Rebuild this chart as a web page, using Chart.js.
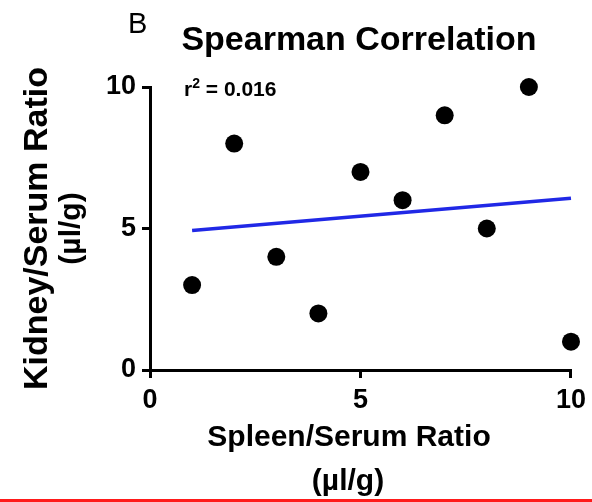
<!DOCTYPE html>
<html>
<head>
<meta charset="utf-8">
<script src="https://cdn.jsdelivr.net/npm/chart.js@4/dist/chart.umd.min.js"></script>
<style>
  html, body { margin: 0; padding: 0; background: #fff; }
  #wrap { position: relative; width: 592px; height: 502px; overflow: hidden; }
  #bar { position: absolute; left: 0; bottom: 0; width: 592px; height: 3px; background: #ff1a1a; }
</style>
</head>
<body>
<div id="wrap">
  <canvas id="c" width="592" height="502"></canvas>
  <div id="bar"></div>
</div>
<script>
// Spleen/serum vs kidney/serum ratios (µl/g)
const spleenRatio = [1, 2, 3, 4, 5, 6, 7, 8, 9, 10];
const kidneyRatio = [3, 8, 4, 2, 7, 6, 9, 5, 10, 1];
// Fitted trend line end points
const fitX = [1, 10];
const fitY = [4.93, 6.07];
// Axis ticks
const xTicks = [0, 5, 10];
const yTicks = [0, 5, 10];

const panelLetter = 'B';
const chartTitle = 'Spearman Correlation';
const xTitle = ['Spleen/Serum Ratio', '(\u00b5l/g)'];
const yTitle = ['Kidney/Serum Ratio', '(\u00b5l/g)'];
const rsqText = ' = 0.016';

const FONT = "'Liberation Sans', Arial, sans-serif";

const points = spleenRatio.map((x, i) => ({ x: x, y: kidneyRatio[i] }));
const fitLine = fitX.map((x, i) => ({ x: x, y: fitY[i] }));

const textPlugin = {
  id: 'panelText',
  afterDraw(chart) {
    const ctx = chart.ctx;
    const area = chart.chartArea;
    ctx.save();
    ctx.fillStyle = '#000';
    ctx.textBaseline = 'alphabetic';

    // panel letter
    ctx.font = '29px ' + FONT;
    ctx.textAlign = 'left';
    ctx.fillText(panelLetter, 128, 33);

    // title
    ctx.font = 'bold 34px ' + FONT;
    ctx.textAlign = 'center';
    ctx.fillText(chartTitle, 359, 50);

    // r squared annotation
    ctx.textAlign = 'left';
    ctx.font = 'bold 21px ' + FONT;
    let x = 184;
    ctx.fillText('r', x, 96);
    x += ctx.measureText('r').width;
    ctx.font = 'bold 14px ' + FONT;
    ctx.fillText('2', x, 88);
    x += ctx.measureText('2').width;
    ctx.font = 'bold 21px ' + FONT;
    ctx.fillText(rsqText, x, 96);

    // x axis title
    ctx.textAlign = 'center';
    ctx.font = 'bold 30px ' + FONT;
    ctx.fillText(xTitle[0], 349, 446);
    ctx.fillText(xTitle[1], 348, 490);

    // y axis title
    const cy = (area.top + area.bottom) / 2;
    ctx.translate(0, cy);
    ctx.rotate(-Math.PI / 2);
    ctx.font = 'bold 34px ' + FONT;
    ctx.fillText(yTitle[0], 0, 47);
    ctx.font = 'bold 30px ' + FONT;
    ctx.fillText(yTitle[1], 0, 80);
    ctx.restore();
  }
};

const axisCommon = {
  type: 'linear',
  min: 0,
  max: 10,
  border: { display: true, color: '#000', width: 3 },
  grid: { drawOnChartArea: false, drawTicks: true, tickLength: 8, color: '#000', lineWidth: 3 },
  ticks: { color: '#000', font: { family: FONT, size: 27, weight: 'bold' }, padding: 6 }
};

new Chart(document.getElementById('c'), {
  type: 'scatter',
  data: {
    datasets: [
      {
        data: points,
        backgroundColor: '#000',
        borderWidth: 0,
        pointRadius: 9,
        pointHoverRadius: 9,
        clip: false
      },
      {
        type: 'line',
        data: fitLine,
        borderColor: 'rgb(32, 40, 230)',
        borderWidth: 3.5,
        pointRadius: 0,
        fill: false,
        clip: false
      }
    ]
  },
  options: {
    responsive: false,
    animation: false,
    layout: { padding: { top: 87, right: 20, left: 0, bottom: 0 } },
    plugins: { legend: { display: false }, tooltip: { enabled: false }, title: { display: false } },
    scales: {
      x: Object.assign({}, axisCommon, {
        position: 'bottom',
        afterBuildTicks(s) { s.ticks = xTicks.map(v => ({ value: v })); },
        afterFit(s) { s.height = 132; }
      }),
      y: Object.assign({}, axisCommon, {
        position: 'left',
        afterBuildTicks(s) { s.ticks = yTicks.map(v => ({ value: v })); },
        afterFit(s) { s.width = 150; }
      })
    }
  },
  plugins: [textPlugin]
});
</script>
</body>
</html>
